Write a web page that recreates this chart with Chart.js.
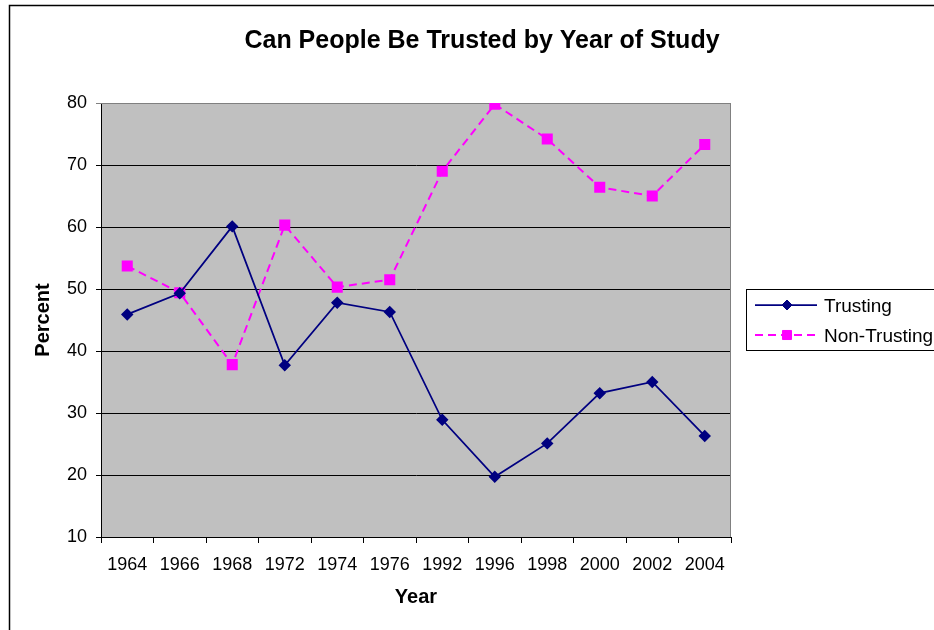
<!DOCTYPE html>
<html>
<head>
<meta charset="utf-8">
<script src="https://cdn.jsdelivr.net/npm/chart.js@4"></script>
<style>
  html, body { margin: 0; padding: 0; background: #fff; }
  #wrap { width: 934px; height: 630px; position: relative; }
</style>
</head>
<body>
<div id="wrap"><canvas id="trustChart" width="934" height="630"></canvas></div>
<script>
const years = ["1964", "1966", "1968", "1972", "1974", "1976", "1992", "1996", "1998", "2000", "2002", "2004"];
const trusting = [45.9, 49.3, 60.1, 37.7, 47.8, 46.3, 28.9, 19.7, 25.1, 33.2, 35.0, 26.3];
const nonTrusting = [53.7, 49.4, 37.8, 60.3, 50.3, 51.5, 69.0, 79.8, 74.2, 66.4, 65.0, 73.3];
const yTicks = [10, 20, 30, 40, 50, 60, 70, 80];

const FONT = "'Liberation Sans', Arial, sans-serif";
Chart.defaults.font.family = FONT;
Chart.defaults.color = "#000";

// ── frame, plot background, title and legend ──

const chrome = {
    id: "chrome",
    beforeDraw(chart) {
        const { ctx, chartArea: a } = chart;
        ctx.save();
        ctx.fillStyle = "#fff";
        ctx.fillRect(0, 0, chart.width, chart.height);
        ctx.strokeStyle = "#000";
        ctx.lineWidth = 1.5;
        ctx.strokeRect(9.5, 5.5, 1200, 1200);
        ctx.fillStyle = "#c0c0c0";
        ctx.fillRect(a.left, a.top, a.right - a.left, a.bottom - a.top);

        ctx.font = `bold 25px ${FONT}`;
        ctx.textAlign = "center";
        ctx.textBaseline = "alphabetic";
        ctx.fillStyle = "#000";
        ctx.fillText("Can People Be Trusted by Year of Study", 482, 48);
        ctx.restore();
    },
    beforeDatasetsDraw(chart) {
        const { ctx, chartArea: a } = chart;
        ctx.save();
        ctx.strokeStyle = "#808080";
        ctx.lineWidth = 1;
        ctx.beginPath();
        ctx.moveTo(a.left, a.top + 0.5);
        ctx.lineTo(a.right - 0.5, a.top + 0.5);
        ctx.lineTo(a.right - 0.5, a.bottom);
        ctx.stroke();
        ctx.restore();
    },
    afterDraw(chart) {
        const { ctx } = chart;
        ctx.save();
        ctx.fillStyle = "#fff";
        ctx.strokeStyle = "#000";
        ctx.lineWidth = 1;
        ctx.fillRect(746.5, 289.5, 300, 61);
        ctx.strokeRect(746.5, 289.5, 300, 61);

        chart.data.datasets.forEach((ds, i) => {
            const y = 305 + i * 30;
            ctx.strokeStyle = ds.borderColor;
            ctx.lineWidth = ds.borderWidth;
            ctx.setLineDash(ds.borderDash || []);
            ctx.beginPath();
            ctx.moveTo(755, y);
            ctx.lineTo(817, y);
            ctx.stroke();
            ctx.setLineDash([]);
            ctx.fillStyle = ds.pointBackgroundColor;
            ctx.strokeStyle = ds.pointBorderColor;
            ctx.lineWidth = 1;
            Chart.helpers.drawPoint(ctx, { pointStyle: ds.pointStyle, radius: ds.pointRadius, borderWidth: 1 }, 787, y);
            ctx.fillStyle = "#000";
            ctx.font = `19px ${FONT}`;
            ctx.textAlign = "left";
            ctx.textBaseline = "alphabetic";
            ctx.fillText(ds.label, 824, y + 7);
        });
        ctx.restore();
    },
};

new Chart(document.getElementById("trustChart").getContext("2d"), {
    type: "line",
    data: {
        labels: years,
        datasets: [
            {
                label: "Trusting",
                data: trusting,
                borderColor: "#000080",
                borderWidth: 1.75,
                pointStyle: "rectRot",
                pointRadius: 5,
                pointBackgroundColor: "#000080",
                pointBorderColor: "#000080",
                tension: 0,
            },
            {
                label: "Non-Trusting",
                data: nonTrusting,
                borderColor: "#ff00ff",
                borderWidth: 2,
                borderDash: [8, 5],
                pointStyle: "rect",
                pointRadius: 6.4,
                pointBackgroundColor: "#ff00ff",
                pointBorderColor: "#ff00ff",
                tension: 0,
            },
        ],
    },
    options: {
        responsive: false,
        animation: false,
        layout: { padding: { left: 27, top: 103, right: 203, bottom: 17 } },
        plugins: {
            legend: { display: false },
            title: { display: false },
            tooltip: { enabled: false },
        },
        scales: {
            x: {
                offset: true,
                ticks: { font: { size: 18 }, padding: 11, maxRotation: 0, autoSkip: false, color: "#000" },
                grid: { offset: true, drawOnChartArea: false, tickLength: 6, color: "#000" },
                border: { color: "#000", width: 1 },
                title: { display: true, text: "Year", font: { size: 20, weight: "bold" }, color: "#000" },
                afterFit: (axis) => { axis.height = 76; },
            },
            y: {
                min: 10,
                max: 80,
                afterBuildTicks: (axis) => { axis.ticks = yTicks.map((v) => ({ value: v })); },
                ticks: { font: { size: 18 }, padding: 9, color: "#000" },
                grid: {
                    tickLength: 5,
                    color: (c) => (c.tick && c.tick.value === 80 ? "#808080" : "#000"),
                },
                border: { color: "#000", width: 1 },
                title: { display: true, text: "Percent", font: { size: 20, weight: "bold" }, color: "#000" },
                afterFit: (axis) => { axis.width = 74; },
            },
        },
    },
    plugins: [chrome],
});
</script>
</body>
</html>
